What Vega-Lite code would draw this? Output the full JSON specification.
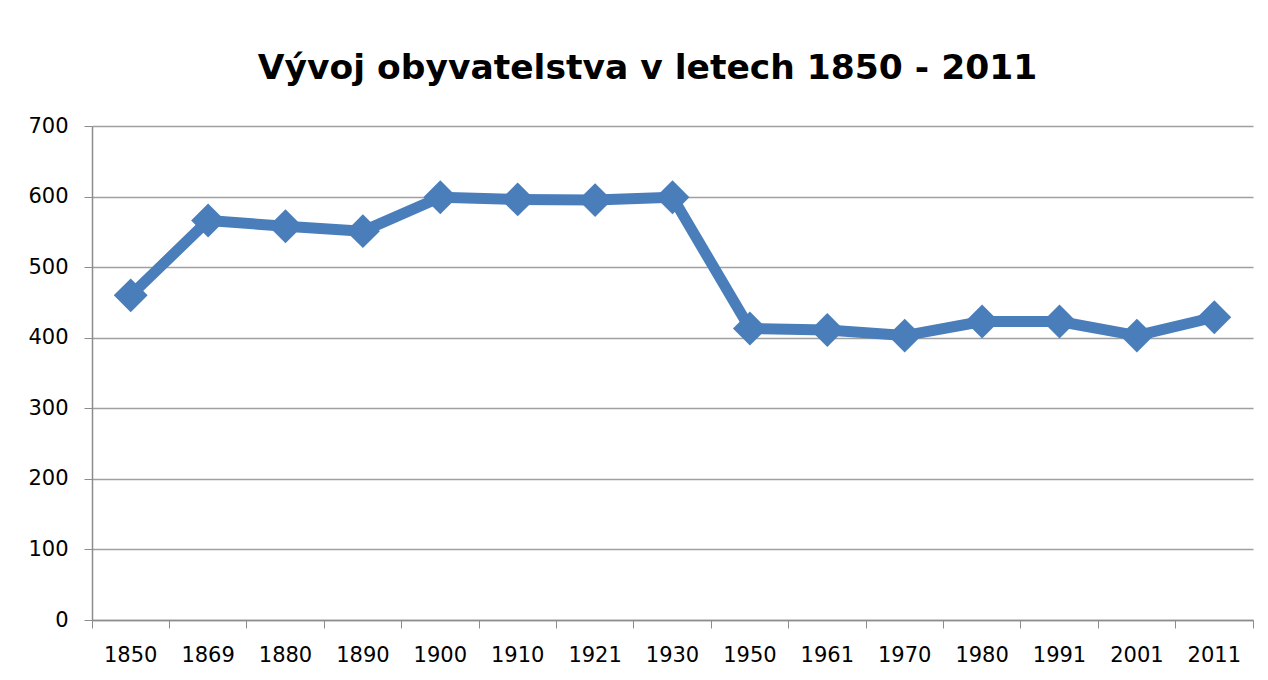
{
  "$schema": "https://vega.github.io/schema/vega-lite/v6.json",
  "autosize": "none",
  "width": 1161,
  "height": 494,
  "padding": {"left": 92, "top": 126, "right": 15, "bottom": 60},
  "background": "white",
  "title": {
    "text": "Vývoj obyvatelstva v letech 1850 - 2011",
    "font": "DejaVu Sans",
    "fontSize": 34.5,
    "fontWeight": "bold",
    "color": "#000000",
    "anchor": "middle",
    "baseline": "alphabetic",
    "offset": 44,
    "dx": -25,
    "dy": 42
  },
  "data": {
    "values": [
      {"rok": "1850", "obyvatel": 460},
      {"rok": "1869", "obyvatel": 566},
      {"rok": "1880", "obyvatel": 558},
      {"rok": "1890", "obyvatel": 551},
      {"rok": "1900", "obyvatel": 599},
      {"rok": "1910", "obyvatel": 596},
      {"rok": "1921", "obyvatel": 595},
      {"rok": "1930", "obyvatel": 599},
      {"rok": "1950", "obyvatel": 413},
      {"rok": "1961", "obyvatel": 411},
      {"rok": "1970", "obyvatel": 403},
      {"rok": "1980", "obyvatel": 423},
      {"rok": "1991", "obyvatel": 423},
      {"rok": "2001", "obyvatel": 403},
      {"rok": "2011", "obyvatel": 429}
    ]
  },
  "encoding": {
    "x": {
      "field": "rok",
      "type": "ordinal",
      "sort": null,
      "scale": {"type": "band", "paddingInner": 0, "paddingOuter": 0},
      "axis": {
        "title": null,
        "labelAngle": 0,
        "labelFont": "DejaVu Sans",
        "labelFontSize": 21,
        "labelColor": "#000000",
        "labelPadding": 16,
        "bandPosition": 1,
        "tickExtra": true,
        "tickSize": 8,
        "tickColor": "#8c8c8c",
        "domainColor": "#8c8c8c",
        "domainWidth": 1.5,
        "grid": false
      }
    },
    "y": {
      "field": "obyvatel",
      "type": "quantitative",
      "scale": {"domain": [0, 700], "nice": false},
      "axis": {
        "title": null,
        "values": [0, 100, 200, 300, 400, 500, 600, 700],
        "labelFont": "DejaVu Sans",
        "labelFontSize": 21,
        "labelColor": "#000000",
        "labelPadding": 16,
        "tickSize": 8,
        "tickColor": "#8c8c8c",
        "domainColor": "#8c8c8c",
        "domainWidth": 1.5,
        "grid": true,
        "gridColor": "#a0a0a0",
        "gridWidth": 1.5
      }
    }
  },
  "layer": [
    {
      "mark": {"type": "line", "color": "#4a7ebb", "strokeWidth": 11, "strokeJoin": "round"}
    },
    {
      "mark": {"type": "point", "shape": "diamond", "filled": true, "size": 1150, "color": "#4a7ebb", "opacity": 1}
    }
  ],
  "config": {
    "view": {"stroke": null}
  }
}
